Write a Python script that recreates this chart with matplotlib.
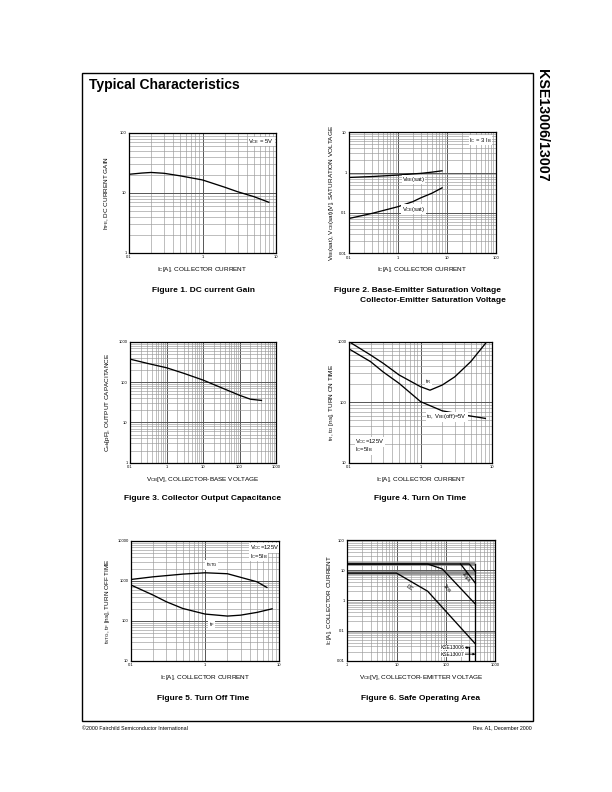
import matplotlib
matplotlib.use("Agg")
import matplotlib.pyplot as plt
from matplotlib.ticker import FixedLocator, FixedFormatter, LogLocator, NullFormatter
from matplotlib.patches import Rectangle

plt.rcParams['font.family'] = ['Liberation Sans', 'DejaVu Sans']
plt.rcParams['mathtext.default'] = 'regular'

# ---------------- data ----------------
# Fig 1: DC current gain
f1_ic = [0.1, 0.15, 0.2, 0.3, 0.5, 1, 2, 3, 5, 8]
f1_hfe = [20.5, 21.5, 22, 21.3, 19.3, 16.5, 12.5, 10.5, 8.7, 7.0]

# Fig 2: saturation voltages
f2_ic = [0.1, 0.3, 0.5, 1, 2, 3, 5, 8]
f2_vbe = [0.76, 0.80, 0.83, 0.87, 0.93, 0.96, 1.03, 1.11]
f2_vce = [0.073, 0.098, 0.115, 0.143, 0.19, 0.24, 0.31, 0.42]

# Fig 3: output capacitance
f3_vcb = [0.1, 0.3, 1, 3, 10, 30, 100, 200, 400]
f3_cob = [370, 290, 226, 164, 112, 74, 47, 37.5, 35]

# Fig 4: turn on time
f4_ic_tr = [0.1, 0.2, 0.3, 0.5, 1, 1.35, 2, 3, 5, 8.4]
f4_tr = [1000, 603, 440, 282, 180, 158, 192, 263, 468, 1000]
f4_ic_td = [0.1, 0.2, 0.3, 0.5, 1, 2, 3, 5, 8]
f4_td = [760, 468, 316, 205, 102, 72, 66, 59, 54]

# Fig 5: turn off time
f5_ic_stg = [0.1, 0.2, 0.5, 1, 2, 5, 6.8]
f5_tstg = [1080, 1259, 1468, 1585, 1500, 944, 682]
f5_ic_f = [0.1, 0.2, 0.3, 0.5, 1, 2, 3, 5, 8]
f5_tf = [785, 438, 300, 204, 148, 132, 139, 163, 200]

# Fig 6: safe operating area
f6_dc_v = [1, 10, 43, 400]
f6_dc_i = [8, 8, 2.0, 0.036]
f6_1ms_v = [1, 43, 85, 400]
f6_1ms_i = [16, 16, 11, 0.75]
f6_10us_v = [200, 400]
f6_10us_i = [16, 3.7]
f6_top_v = [1, 300, 400]
f6_top_i = [16, 16, 9]
f6_icmax = [8, 16]
f6_vceo = [300, 400]

W, H = 612, 792
fig = plt.figure(figsize=(6.12, 7.92), dpi=100)


def px_axes(x0, yt, x1, yb):
    return fig.add_axes([x0 / W, 1 - yb / H, (x1 - x0) / W, (yb - yt) / H])


def setup(ax, xlim, ylim, xt, xl, yt, yl, xlabel, ylabel, ylx):
    ax.set_xscale('log')
    ax.set_yscale('log')
    ax.set_xlim(*xlim)
    ax.set_ylim(*ylim)
    ax.xaxis.set_major_locator(FixedLocator(xt))
    ax.xaxis.set_major_formatter(FixedFormatter(xl))
    ax.yaxis.set_major_locator(FixedLocator(yt))
    ax.yaxis.set_major_formatter(FixedFormatter(yl))
    for a in (ax.xaxis, ax.yaxis):
        a.set_minor_locator(LogLocator(base=10, subs=range(2, 10), numticks=100))
        a.set_minor_formatter(NullFormatter())
    ax.grid(which='major', color='#555555', lw=0.7)
    ax.grid(which='minor', color='#9a9a9a', lw=0.45)
    ax.tick_params(which='both', length=0, labelsize=3, pad=1.8)
    for s in ax.spines.values():
        s.set_linewidth(0.9)
        s.set_color('black')
    ax.set_xlabel(xlabel, fontsize=4.6, labelpad=4)
    ax.set_ylabel(ylabel, fontsize=4.6)
    ax.yaxis.set_label_coords(ylx, 0.5)


def label(ax, x, y, s, ha='center', va='center', rot=0, bg=True, fs=4.2):
    kw = {}
    if bg:
        kw['bbox'] = dict(facecolor='white', edgecolor='none', pad=0.3)
    ax.text(x, y, s, transform=ax.transAxes, ha=ha, va=va, rotation=rot,
            fontsize=fs, **kw)


LW = 0.95

# ---- Figure 1 ----
ax1 = px_axes(129, 133, 276, 253)
setup(ax1, (0.1, 10), (1, 100), [0.1, 1, 10], ['0.1', '1', '10'],
      [1, 10, 100], ['1', '10', '100'],
      r'I$_C$[A], COLLECTOR CURRENT', r'h$_{FE}$, DC CURRENT GAIN', -0.12)
ax1.plot(f1_ic, f1_hfe, color='black', lw=LW)
label(ax1, 0.9, 0.93, r'V$_{CE}$ = 5V')

# ---- Figure 2 ----
ax2 = px_axes(349, 132.3, 495.7, 253.3)
setup(ax2, (0.1, 100), (0.01, 10), [0.1, 1, 10, 100], ['0.1', '1', '10', '100'],
      [0.01, 0.1, 1, 10], ['0.01', '0.1', '1', '10'],
      r'I$_C$[A], COLLECTOR CURRENT',
      r'V$_{BE}$(sat), V$_{CE}$(sat)[V], SATURATION VOLTAGE', -0.09)
ax2.plot(f2_ic, f2_vbe, color='black', lw=LW)
ax2.plot(f2_ic, f2_vce, color='black', lw=LW)
label(ax2, 0.895, 0.935, r'I$_C$ = 3 I$_B$')
label(ax2, 0.44, 0.61, r'V$_{BE}$(sat)')
label(ax2, 0.44, 0.365, r'V$_{CE}$(sat)')

# ---- Figure 3 ----
ax3 = px_axes(130, 341.7, 276, 462.7)
setup(ax3, (0.1, 1000), (1, 1000), [0.1, 1, 10, 100, 1000],
      ['0.1', '1', '10', '100', '1000'],
      [1, 10, 100, 1000], ['1', '10', '100', '1000'],
      r'V$_{CB}$[V], COLLECTOR-BASE VOLTAGE', r'C$_{ob}$[pF], OUTPUT CAPACITANCE', -0.12)
ax3.plot(f3_vcb, f3_cob, color='black', lw=LW)

# ---- Figure 4 ----
ax4 = px_axes(349, 341.7, 492.3, 462.7)
setup(ax4, (0.1, 10), (10, 1000), [0.1, 1, 10], ['0.1', '1', '10'],
      [10, 100, 1000], ['10', '100', '1000'],
      r'I$_C$[A], COLLECTOR CURRENT', r't$_R$, t$_D$ [ns], TURN ON TIME', -0.09)
ax4.plot(f4_ic_tr, f4_tr, color='black', lw=LW)
ax4.plot(f4_ic_td, f4_td, color='black', lw=LW)
label(ax4, 0.553, 0.67, r't$_R$')
label(ax4, 0.54, 0.38, r't$_D$, V$_{BE}$(off)=5V', ha='left')
label(ax4, 0.045, 0.172, r'V$_{CC}$=125V', ha='left')
label(ax4, 0.045, 0.105, r'I$_C$=5I$_B$', ha='left')

# ---- Figure 5 ----
ax5 = px_axes(131, 540.7, 279.3, 661)
setup(ax5, (0.1, 10), (10, 10000), [0.1, 1, 10], ['0.1', '1', '10'],
      [10, 100, 1000, 10000], ['10', '100', '1000', '10000'],
      r'I$_C$[A], COLLECTOR CURRENT', r't$_{STG}$, t$_F$ [ns], TURN OFF TIME', -0.13)
ax5.plot(f5_ic_stg, f5_tstg, color='black', lw=LW)
ax5.plot(f5_ic_f, f5_tf, color='black', lw=LW)
label(ax5, 0.545, 0.80, r't$_{STG}$')
label(ax5, 0.545, 0.305, r't$_F$')
label(ax5, 0.80, 0.942, r'V$_{CC}$=125V', ha='left')
label(ax5, 0.80, 0.872, r'I$_C$=5I$_B$', ha='left')

# ---- Figure 6 ----
ax6 = px_axes(347.3, 540, 495, 660.7)
setup(ax6, (1, 1000), (0.01, 100), [1, 10, 100, 1000], ['1', '10', '100', '1000'],
      [0.01, 0.1, 1, 10, 100], ['0.01', '0.1', '1', '10', '100'],
      r'V$_{CE}$[V], COLLECTOR-EMITTER VOLTAGE', r'I$_C$[A], COLLECTOR CURRENT', -0.09)
for lvl in f6_icmax:
    ax6.plot([1, f6_vceo[1]], [lvl, lvl], color='#8c8c8c', lw=2.6, solid_capstyle='butt')
ax6.plot(f6_top_v, f6_top_i, color='black', lw=LW)
ax6.plot(f6_dc_v, f6_dc_i, color='black', lw=LW)
ax6.plot(f6_1ms_v, f6_1ms_i, color='black', lw=LW)
ax6.plot(f6_10us_v, f6_10us_i, color='black', lw=LW)
ax6.plot([f6_vceo[1], f6_vceo[1]], [0.01, 16], color='black', lw=LW)
ax6.plot([f6_vceo[0], f6_vceo[0]], [0.01, 0.029], color='black', lw=LW)
label(ax6, 0.42, 0.605, 'DC', rot=-35, bg=False, fs=3.6)
label(ax6, 0.675, 0.60, '1ms', rot=-48, bg=False, fs=3.6)
label(ax6, 0.80, 0.69, '10\u00b5s', rot=-55, bg=False, fs=3.6)
ax6.annotate('KSE13006', xy=(f6_vceo[0], 0.027), xytext=(238, 0.027),
             ha='right', va='center', fontsize=3.6,
             bbox=dict(facecolor='white', edgecolor='none', pad=0.2),
             arrowprops=dict(arrowstyle='-|>', lw=0.6, color='black',
                             mutation_scale=3, shrinkA=0, shrinkB=0))
ax6.annotate('KSE13007', xy=(f6_vceo[1], 0.0165), xytext=(238, 0.0165),
             ha='right', va='center', fontsize=3.6,
             bbox=dict(facecolor='white', edgecolor='none', pad=0.2),
             arrowprops=dict(arrowstyle='-|>', lw=0.6, color='black',
                             mutation_scale=3, shrinkA=0, shrinkB=0))

# ---- page furniture ----
def ftext(x, y, s, **kw):
    fig.text(x / W, 1 - y / H, s, **kw)

fig.patches.append(Rectangle((81.7 / W, 1 - 721 / H), (533 - 81.7) / W, (721 - 73) / H,
                             transform=fig.transFigure, fill=False, lw=1.0,
                             edgecolor='black'))
ftext(89, 85, 'Typical Characteristics', fontsize=10, fontweight='bold', va='center')
ftext(542, 69, 'KSE13006/13007', fontsize=10.3, fontweight='bold', rotation=270,
      ha='center', va='top')

cap = dict(fontsize=6.0, fontweight='bold', ha='center', va='center')
ftext(203, 291, 'Figure 1. DC current Gain', **cap)
ftext(418, 291, 'Figure 2. Base-Emitter Saturation Voltage', **cap)
ftext(433, 301, 'Collector-Emitter Saturation Voltage', **cap)
ftext(203, 499, 'Figure 3. Collector Output Capacitance', **cap)
ftext(420, 499, 'Figure 4. Turn On Time', **cap)
ftext(203, 698, 'Figure 5. Turn Off Time', **cap)
ftext(421, 698, 'Figure 6. Safe Operating Area', **cap)

ftext(82, 728, '\u00a92000 Fairchild Semiconductor International', fontsize=3.8,
      va='center', ha='left')
ftext(532, 728, 'Rev. A1, December 2000', fontsize=3.8, va='center', ha='right')

fig.savefig('out.png', dpi=100)
